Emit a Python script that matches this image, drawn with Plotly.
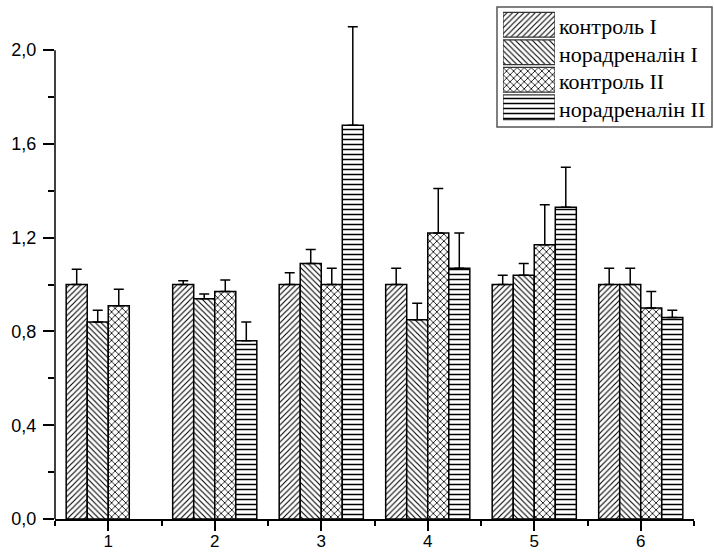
import plotly.graph_objects as go

categories = [1, 2, 3, 4, 5, 6]
series_names = ["контроль I", "норадреналін I", "контроль II", "норадреналін II"]
kontrol_1 = [1.00, 1.00, 1.00, 1.00, 1.00, 1.00]
kontrol_1_err = [0.065, 0.016, 0.05, 0.07, 0.04, 0.07]
noradr_1 = [0.84, 0.94, 1.09, 0.85, 1.04, 1.00]
noradr_1_err = [0.05, 0.02, 0.06, 0.07, 0.05, 0.07]
kontrol_2 = [0.91, 0.97, 1.00, 1.22, 1.17, 0.90]
kontrol_2_err = [0.07, 0.05, 0.07, 0.19, 0.17, 0.07]
noradr_2 = [None, 0.76, 1.68, 1.07, 1.33, 0.86]
noradr_2_err = [0, 0.08, 0.42, 0.15, 0.17, 0.03]
y_tickvals = [0.0, 0.4, 0.8, 1.2, 1.6, 2.0]
y_ticktext = ["0,0", "0,4", "0,8", "1,2", "1,6", "2,0"]
y_minor = [0.2, 0.6, 1.0, 1.4, 1.8]
x_minor = [0.5, 1.5, 2.5, 3.5, 4.5, 5.5, 6.5]

values = [kontrol_1, noradr_1, kontrol_2, noradr_2]
errors = [kontrol_1_err, noradr_1_err, kontrol_2_err, noradr_2_err]
patterns = ["/", "\\", "x", "-"]
pat_sizes = [4, 4, 5, 5]
pat_solid = [0.28, 0.28, 0.3, 0.3]

W, H = 714, 553
# plot area in pixels
PL, PR, PT, PB = 55, 694, 22, 519

fig = go.Figure()
for name, v, e, p, s, so in zip(series_names, values, errors, patterns, pat_sizes, pat_solid):
    fig.add_trace(go.Bar(
        x=categories, y=v, name=name, showlegend=False,
        marker=dict(color="white",
                    line=dict(color="black", width=1.5),
                    pattern=dict(shape=p, fgcolor="black", bgcolor="white",
                                 size=s, solidity=so, fillmode="replace")),
        error_y=dict(type="data", array=e, arrayminus=[0] * len(e), symmetric=False,
                     color="black", thickness=1.5, width=5),
        xaxis="x", yaxis="y",
    ))

# legend swatches on an auxiliary axis
fig.add_trace(go.Bar(
    x=[1, 1, 1, 1], y=[3, 2, 1, 0], orientation="h", width=0.9,
    showlegend=False, hoverinfo="skip",
    marker=dict(color="white",
                line=dict(color="#333333", width=1.2),
                pattern=dict(shape=patterns, fgcolor="black", bgcolor="white",
                             size=pat_sizes, solidity=pat_solid, fillmode="replace")),
    xaxis="x2", yaxis="y2",
))

legend_x0, legend_x1 = 503, 555
legend_top, legend_bottom = 11, 121

fig.update_layout(
    width=W, height=H,
    margin=dict(l=0, r=0, t=0, b=0, autoexpand=False),
    plot_bgcolor="white", paper_bgcolor="white",
    barmode="group", bargap=0.21, bargroupgap=0,
    font=dict(family="Liberation Sans, Arial, sans-serif", size=18, color="black"),
    xaxis=dict(
        domain=[PL / W, PR / W], range=[0.5, 6.5], automargin=False,
        tickvals=categories, ticktext=[str(c) for c in categories],
        ticks="outside", ticklen=10, tickwidth=1.5, tickcolor="black",
        ticklabelstandoff=-4,
        showline=True, linecolor="black", linewidth=1.5,
        showgrid=False, zeroline=False,
        minor=dict(tickvals=x_minor, ticks="outside", ticklen=5, tickwidth=1.5,
                   tickcolor="black", showgrid=False),
        tickfont=dict(size=17),
    ),
    yaxis=dict(
        domain=[(H - PB) / H, (H - PT) / H], range=[0, 2.12], automargin=False,
        tickvals=y_tickvals, ticktext=y_ticktext,
        ticks="outside", ticklen=11, tickwidth=1.5, tickcolor="black",
        ticklabelstandoff=3,
        showline=False, showgrid=False, zeroline=False,
        minor=dict(tickvals=y_minor, ticks="outside", ticklen=6, tickwidth=1.5,
                   tickcolor="black", showgrid=False),
        tickfont=dict(size=18),
    ),
    xaxis2=dict(domain=[legend_x0 / W, legend_x1 / W], range=[0, 1], automargin=False,
                visible=False, fixedrange=True),
    yaxis2=dict(domain=[(H - legend_bottom) / H, (H - legend_top) / H], automargin=False,
                range=[-0.5, 3.5], visible=False, fixedrange=True),
)

# y axis line only up to 2.0
fig.add_shape(type="line", xref="x domain", yref="y", x0=0, x1=0, y0=0, y1=2.0,
              line=dict(color="black", width=1.5))
# legend frame
fig.add_shape(type="rect", xref="paper", yref="paper",
              x0=497 / W, x1=712 / W, y0=(H - 127) / H, y1=(H - 7) / H,
              line=dict(color="#555555", width=1.5), fillcolor="rgba(0,0,0,0)", layer="below")

for i, name in enumerate(series_names):
    fig.add_annotation(
        xref="x2", yref="y2", x=1, y=3 - i, text=name, showarrow=False,
        xanchor="left", yanchor="middle", xshift=2, yshift=-2,
        font=dict(family="Liberation Serif, Times New Roman, serif", size=22, color="black"),
    )

fig.write_html("out.html", config={"displayModeBar": False},
               post_script="document.body.style.margin='0';document.body.style.padding='0';")
